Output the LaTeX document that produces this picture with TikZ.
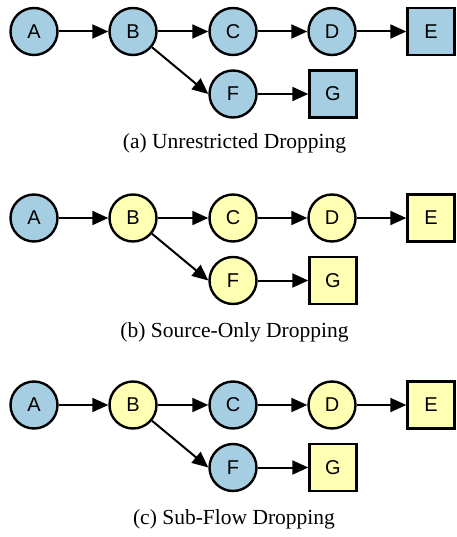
\documentclass[tikz,border=0pt]{standalone}
\usepackage{fontspec}
\setmainfont{Liberation Serif}
\setsansfont{Liberation Sans}
\usetikzlibrary{arrows.meta}

\definecolor{keptblue}{HTML}{A6CEE3}
\definecolor{dropyellow}{HTML}{FFFFB3}

\begin{document}
\begin{tikzpicture}[x=1pt,y=-1pt,>={Triangle[length=16pt,width=14pt]},
        op/.style={circle,draw,line width=2.4pt,minimum size=47pt,inner sep=0pt,
            font=\sffamily\fontsize{20}{20}\selectfont},
        sink/.style={rectangle,draw,line width=2.4pt,minimum size=47pt,inner sep=0pt,
            font=\sffamily\fontsize{20}{20}\selectfont},
        kept/.style={fill=keptblue},
        dropped/.style={fill=dropyellow},
        flow/.style={->,line width=2pt},
        subcap/.style={font=\fontsize{21.5}{21.5}\selectfont}]
    \useasboundingbox (0,0) rectangle (456,537);

    % (a) unrestricted
    \node[op,kept]   (aA) at (34,31.5)  {A};
    \node[op,kept]   (aB) at (133,31.5) {B};
    \node[op,kept]   (aC) at (233,31.5) {C};
    \node[op,kept]   (aD) at (332,31.5) {D};
    \node[sink,kept] (aE) at (431,31.5) {E};
    \node[op,kept]   (aF) at (233,94)   {F};
    \node[sink,kept] (aG) at (333,94)   {G};
    \draw[flow] (aA) -- (aB);
    \draw[flow] (aB) -- (aC);
    \draw[flow] (aC) -- (aD);
    \draw[flow] (aD) -- (aE);
    \draw[flow] (aB) -- (aF.west);
    \draw[flow] (aF) -- (aG);
    \node[subcap] (capa) at (234.5,143) {(a) Unrestricted Dropping};

    % (b) source only
    \begin{scope}[shift={(0,186.5)}]
        \node[op,kept]      (bA) at (34,31.5)  {A};
        \node[op,dropped]   (bB) at (133,31.5) {B};
        \node[op,dropped]   (bC) at (233,31.5) {C};
        \node[op,dropped]   (bD) at (332,31.5) {D};
        \node[sink,dropped] (bE) at (431,31.5) {E};
        \node[op,dropped]   (bF) at (233,94)   {F};
        \node[sink,dropped] (bG) at (333,94)   {G};
        \draw[flow] (bA) -- (bB);
        \draw[flow] (bB) -- (bC);
        \draw[flow] (bC) -- (bD);
        \draw[flow] (bD) -- (bE);
        \draw[flow] (bB) -- (bF.west);
        \draw[flow] (bF) -- (bG);
        \node[subcap] (capb) at (234.5,145.5) {(b) Source-Only Dropping};
    \end{scope}

    % (c) sub-flow
    \begin{scope}[shift={(0,373.5)}]
        \node[op,kept]      (cA) at (34,31.5)  {A};
        \node[op,dropped]   (cB) at (133,31.5) {B};
        \node[op,kept]      (cC) at (233,31.5) {C};
        \node[op,dropped]   (cD) at (332,31.5) {D};
        \node[sink,dropped] (cE) at (431,31.5) {E};
        \node[op,kept]      (cF) at (233,94)   {F};
        \node[sink,dropped] (cG) at (333,94)   {G};
        \draw[flow] (cA) -- (cB);
        \draw[flow] (cB) -- (cC);
        \draw[flow] (cC) -- (cD);
        \draw[flow] (cD) -- (cE);
        \draw[flow] (cB) -- (cF.west);
        \draw[flow] (cF) -- (cG);
        \node[subcap] (capc) at (234,145.5) {(c) Sub-Flow Dropping};
    \end{scope}
\end{tikzpicture}
\end{document}
